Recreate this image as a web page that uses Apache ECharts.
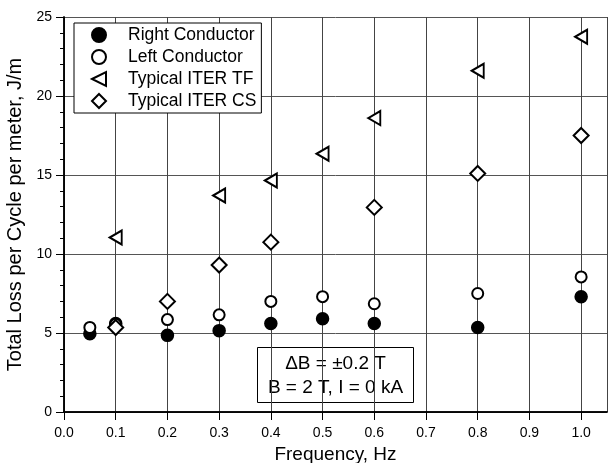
<!DOCTYPE html>
<html>
<head>
<meta charset="utf-8">
<script src="https://cdn.jsdelivr.net/npm/echarts@6/dist/echarts.min.js"></script>
<style>html,body{margin:0;padding:0;background:#fff}#c{width:608px;height:463px}</style>
</head>
<body>
<div id="c"></div>
<script>
const freqRC = [0.05, 0.1, 0.2, 0.3, 0.4, 0.5, 0.6, 0.8, 1.0];
const lossRC = [4.95, 5.6, 4.85, 5.15, 5.6, 5.9, 5.6, 5.35, 7.3];
const freqLC = [0.05, 0.1, 0.2, 0.3, 0.4, 0.5, 0.6, 0.8, 1.0];
const lossLC = [5.35, 5.55, 5.85, 6.15, 7.0, 7.3, 6.85, 7.5, 8.55];
const freqTF = [0.1, 0.3, 0.4, 0.5, 0.6, 0.8, 1.0];
const lossTF = [11.05, 13.7, 14.65, 16.35, 18.6, 21.6, 23.75];
const freqCS = [0.1, 0.2, 0.3, 0.4, 0.6, 0.8, 1.0];
const lossCS = [5.35, 7.0, 9.3, 10.75, 12.95, 15.1, 17.5];
const seriesNames = ['Right Conductor', 'Left Conductor', 'Typical ITER TF', 'Typical ITER CS'];
const noteLines = ['\u0394B = \u00b10.2 T', 'B = 2 T, I = 0 kA'];

const FONT = '"Liberation Sans", Arial, sans-serif';
const pair = (xs, ys) => xs.map((x, i) => [x, ys[i]]);
const triLeft = 'path://M0,5 L10,0 L10,10 Z';

const chart = echarts.init(document.getElementById('c'), null, {renderer: 'canvas'});
const grid = {left: 64, right: 1, top: 17, bottom: 51, containLabel: false, outerBoundsMode: 'none'};
const axisLine = {show: true, lineStyle: {color: '#000', width: 1.5}};

chart.setOption({
  animation: false,
  backgroundColor: '#fff',
  textStyle: {fontFamily: FONT},
  grid: grid,
  legend: {
    orient: 'vertical',
    left: 74, top: 23,
    padding: [3, 5, 3, 17],
    itemGap: 4,
    itemWidth: 14, itemHeight: 14,
    borderColor: '#000', borderWidth: 1,
    backgroundColor: '#fff',
    textStyle: {fontFamily: FONT, fontSize: 17.5, color: '#000', padding: [0, 0, 0, 17]},
    data: seriesNames
  },
  xAxis: [{
    type: 'value', min: 0, max: 1.05, interval: 0.1,
    name: 'Frequency, Hz', nameLocation: 'middle', nameGap: 30,
    nameTextStyle: {fontFamily: FONT, fontSize: 19, color: '#000'},
    axisLine: axisLine,
    axisTick: {show: true, inside: false, length: 8, lineStyle: {color: '#000', width: 1}},
    axisLabel: {fontFamily: FONT, fontSize: 14, color: '#000', margin: 14, showMaxLabel: false,
      formatter: v => (Math.abs(v * 10 - Math.round(v * 10)) < 1e-6 ? v.toFixed(1) : '')},
    splitLine: {show: true, lineStyle: {color: '#444', width: 1}}
  }, {
    type: 'value', min: 0, max: 1.05, interval: 0.1, position: 'top',
    axisLine: axisLine,
    axisTick: {show: false}, axisLabel: {show: false}, splitLine: {show: false}
  }],
  yAxis: [{
    type: 'value', min: 0, max: 25, interval: 5,
    name: 'Total Loss per Cycle per meter, J/m', nameLocation: 'middle', nameGap: 35,
    nameTextStyle: {fontFamily: FONT, fontSize: 20, color: '#000'},
    axisLine: axisLine,
    axisTick: {show: true, inside: false, length: 8, lineStyle: {color: '#000', width: 1}},
    minorTick: {show: true, splitNumber: 5, length: 4, lineStyle: {color: '#000', width: 1}},
    axisLabel: {fontFamily: FONT, fontSize: 14, color: '#000', margin: 12},
    splitLine: {show: true, lineStyle: {color: '#555', width: 1}}
  }, {
    type: 'value', min: 0, max: 25, interval: 5, position: 'right',
    axisLine: axisLine,
    axisTick: {show: true, inside: true, length: 7, lineStyle: {color: '#000', width: 1}},
    minorTick: {show: true, splitNumber: 5, length: 4, lineStyle: {color: '#000', width: 1}},
    axisLabel: {show: false}, splitLine: {show: false}
  }],
  series: [
    {name: seriesNames[0], type: 'scatter', data: pair(freqRC, lossRC), symbol: 'circle', symbolSize: 12,
      itemStyle: {color: '#000', borderColor: '#000', borderWidth: 1.5, opacity: 1}},
    {name: seriesNames[1], type: 'scatter', data: pair(freqLC, lossLC), symbol: 'circle', symbolSize: 11,
      itemStyle: {color: '#fff', borderColor: '#000', borderWidth: 2, opacity: 1}},
    {name: seriesNames[2], type: 'scatter', data: pair(freqTF, lossTF), symbol: triLeft, symbolSize: [12, 14],
      itemStyle: {color: '#fff', borderColor: '#000', borderWidth: 2, opacity: 1}},
    {name: seriesNames[3], type: 'scatter', data: pair(freqCS, lossCS), symbol: 'diamond', symbolSize: [15, 15],
      itemStyle: {color: '#fff', borderColor: '#000', borderWidth: 2, opacity: 1}}
  ],
  graphic: [{
    type: 'group', left: 257, top: 347,
    children: [
      {type: 'rect', shape: {x: 0, y: 0, width: 156, height: 55},
        style: {fill: '#fff', stroke: '#000', lineWidth: 1}},
      {type: 'text', x: 78, y: 16, style: {text: noteLines[0], font: '19px ' + FONT, fill: '#000', align: 'center', verticalAlign: 'middle'}},
      {type: 'text', x: 78, y: 40, style: {text: noteLines[1], font: '19px ' + FONT, fill: '#000', align: 'center', verticalAlign: 'middle'}}
    ]
  }]
});
</script>
</body>
</html>
